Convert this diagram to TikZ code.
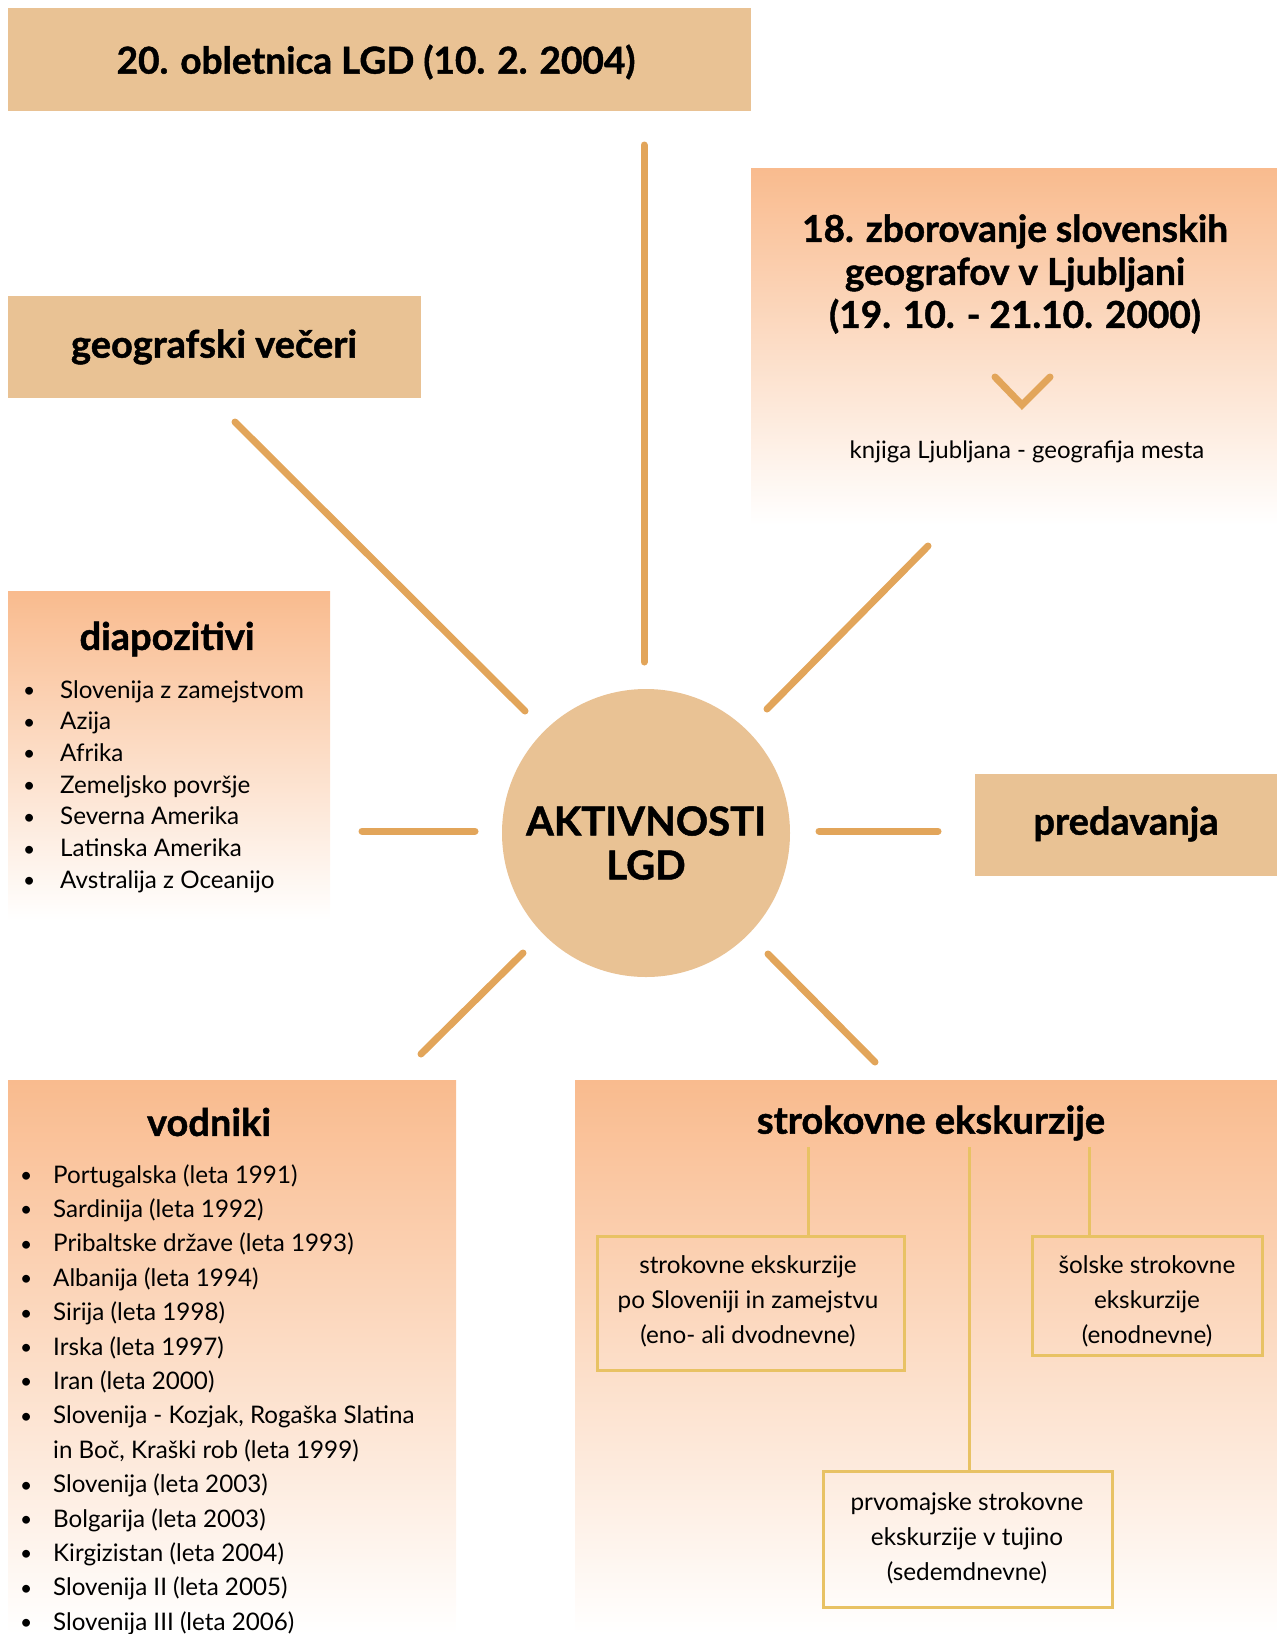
\documentclass[tikz,border=0pt]{standalone}
\usepackage{fontspec}
\setmainfont{Lato}[BoldFeatures={FakeBold=1.2}]
\definecolor{boxfill}{HTML}{E9C294}
\definecolor{peach}{HTML}{F9BB8E}
\definecolor{raycol}{HTML}{E2A55A}
\definecolor{subcol}{HTML}{E8C264}
\newcommand{\smbul}{\raisebox{0.5pt}{\fontsize{21}{21}\selectfont\textbullet}}
\tikzset{
  fillbox/.style={fill=boxfill, draw=none, inner sep=0pt},
  gradbox/.style={top color=peach, bottom color=white, draw=none, inner sep=0pt},
  ray/.style={draw=raycol, line width=7pt, line cap=round},
  subbox/.style={draw=subcol, line width=3pt, fill=none, inner sep=0pt},
  subtxt/.style={align=center, inner sep=0pt, font=\fontsize{24.3}{35}\selectfont},
  subline/.style={draw=subcol, line width=3pt},
  headtxt/.style={font=\fontsize{38}{40}\selectfont\bfseries, inner sep=0pt},
  itemtxt/.style={anchor=base west, inner sep=0pt, font=\fontsize{24.2}{30}\selectfont},
}
\begin{document}
\begin{tikzpicture}[x=1pt,y=-1pt]
\useasboundingbox (0,0) rectangle (1277,1634);
% boxes
\node[fillbox, minimum width=743pt, minimum height=103pt] (obl) at (379.5,59.5) {};
\node[headtxt, font=\fontsize{37}{40}\selectfont\bfseries] (oblt) at (376,62) {20. obletnica LGD (10. 2. 2004)};
\node[fillbox, minimum width=413pt, minimum height=102pt] (vec) at (214.5,347) {};
\node[headtxt] (vect) at (214,347) {geografski večeri};
\node[fillbox, minimum width=302pt, minimum height=102pt] (pred) at (1126,825) {};
\node[headtxt] (predt) at (1126,824) {predavanja};
\node[gradbox, minimum width=526pt, minimum height=357pt] (zb) at (1014,346.5) {};
\node[gradbox, minimum width=322pt, minimum height=330pt] (dia) at (169,756) {};
\node[gradbox, minimum width=448pt, minimum height=554pt] (vod) at (232,1357) {};
\node[gradbox, minimum width=702pt, minimum height=554pt] (str) at (926,1357) {};
% centre
\node[circle, fill=boxfill, minimum size=288pt, inner sep=0pt] (c) at (646,833) {};
\node[align=center, inner sep=0pt, font=\fontsize{40}{44}\selectfont\bfseries] (ct) at (646,843) {AKTIVNOSTI\\LGD};
% rays
\coordinate (r1a) at (644,662); \coordinate (r1b) at (644,145);
\coordinate (r2a) at (525,711); \coordinate (r2b) at (235,422);
\coordinate (r3a) at (767,709); \coordinate (r3b) at (928,546);
\coordinate (r4a) at (475,831); \coordinate (r4b) at (362,831);
\coordinate (r5a) at (819,831); \coordinate (r5b) at (938,831);
\coordinate (r6a) at (523,953); \coordinate (r6b) at (421,1054);
\coordinate (r7a) at (768,954); \coordinate (r7b) at (875,1062);
\foreach \i in {1,...,7} \draw[ray] (r\i a) -- (r\i b);
% zborovanje
\node[headtxt, align=center, font=\fontsize{37}{43}\selectfont\bfseries] (zbt) at (1015,274) {18. zborovanje slovenskih\\geografov v Ljubljani\\(19. 10. - 21.10. 2000)};
\coordinate (v1) at (995,377); \coordinate (v2) at (1022,405); \coordinate (v3) at (1050,377);
\draw[ray] (v1) -- (v2) -- (v3);
\node[inner sep=0pt, font=\fontsize{24}{26}\selectfont] (knj) at (1027,452) {knjiga Ljubljana - geografija mesta};
% diapozitivi
\node[headtxt] (diah) at (167,639) {diapozitivi};
\foreach \t [count=\i] in {Slovenija z zamejstvom, Azija, Afrika, Zemeljsko površje, Severna Amerika, Latinska Amerika, Avstralija z Oceanijo}
  \node[itemtxt] (d\i) at (23,{698+(\i-1)*31.7}) {\makebox[37pt][l]{\smbul}\t};
% vodniki
\node[headtxt] (vodh) at (209,1122) {vodniki};
\foreach \t [count=\i] in {Portugalska (leta 1991), Sardinija (leta 1992), Pribaltske države (leta 1993), Albanija (leta 1994), Sirija (leta 1998), Irska (leta 1997), Iran (leta 2000), {Slovenija - Kozjak, Rogaška Slatina}, {in Boč, Kraški rob (leta 1999)}, Slovenija (leta 2003), Bolgarija (leta 2003), Kirgizistan (leta 2004), Slovenija II (leta 2005), Slovenija III (leta 2006)}
  \node[itemtxt] (w\i) at (20,{1183+(\i-1)*34.4}) {\makebox[33pt][l]{\ifnum\i=9\else\smbul\fi}\t};
% strokovne ekskurzije
\node[headtxt] (strh) at (931,1123) {strokovne ekskurzije};
\node[subbox, minimum width=307pt, minimum height=134pt] (b1) at (750.5,1303) {};
\node[subtxt] (b1t) at (748,1301) {strokovne ekskurzije\\po Sloveniji in zamejstvu\\(eno- ali dvodnevne)};
\node[subbox, minimum width=230pt, minimum height=119pt] (b2) at (1147,1295.5) {};
\node[subtxt] (b2t) at (1147,1301) {šolske strokovne\\ekskurzije\\(enodnevne)};
\node[subbox, minimum width=289pt, minimum height=136pt] (b3) at (967.5,1539) {};
\node[subtxt] (b3t) at (967,1538) {prvomajske strokovne\\ekskurzije v tujino\\(sedemdnevne)};
\coordinate (s1) at (808,1147); \coordinate (s2) at (969,1147); \coordinate (s3) at (1089,1147);
\draw[subline] (s1) -- (s1 |- b1.north);
\draw[subline] (s2) -- (s2 |- b3.north);
\draw[subline] (s3) -- (s3 |- b2.north);
\end{tikzpicture}
\end{document}
